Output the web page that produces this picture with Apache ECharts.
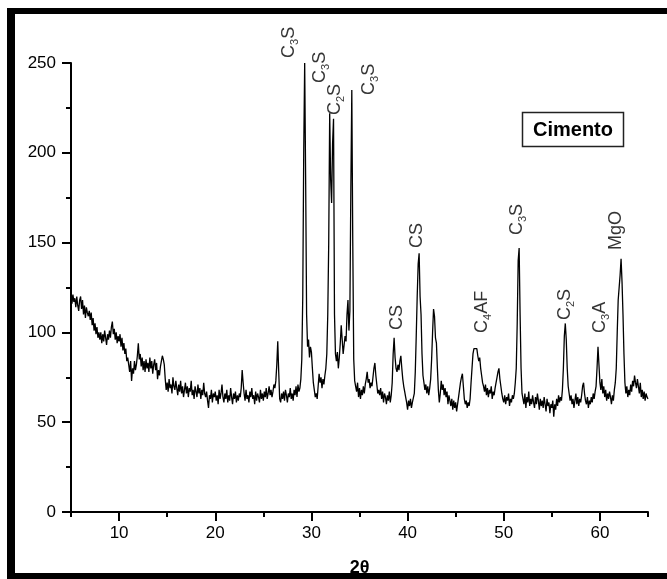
<!DOCTYPE html>
<html>
<head>
<meta charset="utf-8">
<script src="https://cdn.jsdelivr.net/npm/echarts@6/dist/echarts.min.js"></script>
<style>
  html, body { margin: 0; padding: 0; background: #fff; }
  #chart { width: 667px; height: 579px; }
</style>
</head>
<body>
<div id="chart"></div>
<script>
// difratograma - varredura de 5 a 65 graus, passo 0.1
const scanStart = 5.0;
const scanStep = 0.1;
const intensity = [
  124, 116, 121, 117, 119, 114, 120, 115, 112, 118,
  120, 113, 118, 110, 115, 108, 114, 111, 109, 112,
  107, 111, 104, 108, 101, 105, 99, 103, 97, 100,
  96, 100, 94, 99, 95, 101, 97, 93, 99, 96,
  101, 97, 103, 106, 99, 102, 96, 100, 94, 98,
  95, 99, 92, 97, 90, 94, 88, 91, 84, 86,
  82, 78, 84, 73, 80, 77, 84, 79, 82, 87,
  94, 85, 88, 81, 86, 79, 84, 78, 85, 80,
  83, 78, 86, 80, 84, 77, 82, 85, 79, 83,
  74, 79, 76, 81, 84, 87, 85, 82, 74, 68,
  72, 67, 74, 69, 71, 66, 75, 70, 68, 73,
  69, 65, 71, 67, 73, 66, 70, 64, 68, 72,
  66, 70, 64, 69, 67, 73, 65, 68, 63, 70,
  67, 64, 71, 66, 69, 63, 68, 65, 72, 66,
  64, 67, 62, 58, 65, 63, 68, 61, 66, 64,
  67, 62, 65, 60, 68, 63, 66, 71, 64, 61,
  66, 63, 68, 61, 65, 62, 69, 64, 60, 66,
  63, 67, 61, 65, 62, 66, 64, 69, 79, 72,
  66, 62, 68, 63, 65, 61, 67, 64, 69, 63,
  65, 60, 67, 62, 66, 64, 61, 68, 63, 66,
  62, 67, 64, 69, 63, 66, 70, 65, 68, 64,
  67, 71, 69, 73, 82, 95, 78, 63, 61, 66,
  63, 67, 62, 68, 65, 61, 66, 64, 69, 63,
  66, 62, 68, 65, 70, 64, 71, 67, 69, 74,
  85, 120, 200, 250, 185, 110, 92, 96, 86, 92,
  89, 80, 72, 68, 64, 66, 63, 70, 77, 72,
  75, 69, 74, 71, 76, 80, 88, 110, 150, 222,
  185, 172, 205, 219, 110, 88, 84, 89, 80, 86,
  94, 104, 96, 88, 93, 98, 95, 110, 118, 101,
  112, 180, 235, 150, 85, 73, 70, 67, 72, 64,
  69, 63, 68, 65, 70, 66, 71, 74, 78, 72,
  74, 69, 72, 70, 75, 80, 83, 76, 71, 66,
  68, 65, 69, 63, 67, 61, 66, 64, 60, 65,
  62, 67, 61, 65, 72, 88, 97, 86, 80, 78,
  82, 79, 84, 87, 80, 74, 70, 67, 64, 61,
  57, 62, 59, 63, 58, 61, 60, 66, 78, 98,
  120, 138, 144, 120, 110, 88, 76, 72, 68, 71,
  66, 70, 65, 69, 74, 85, 100, 113, 109, 97,
  94, 80, 68, 61, 66, 73, 68, 71, 65, 69,
  64, 67, 60, 65, 62, 59, 63, 57, 62, 58,
  61, 56, 60, 64, 68, 72, 75, 77, 70, 63,
  60, 62, 58, 61, 59, 63, 72, 80, 88, 91,
  92, 90, 91, 87, 84, 86, 80, 76, 72, 70,
  67, 71, 65, 69, 64, 68, 66, 70, 63, 67,
  65, 69, 72, 75, 78, 80, 74, 70, 66, 63,
  61, 65, 60, 64, 62, 66, 59, 63, 61, 65,
  63, 66, 72, 80, 105, 140, 147, 110, 80, 66,
  63, 60, 66, 58, 64, 61, 67, 59, 63, 60,
  65, 61, 58, 64, 60, 66, 62, 57, 63, 59,
  62, 58, 64, 60, 56, 63, 59, 61, 55, 60,
  58, 62, 53, 60, 57, 63, 59, 65, 61, 64,
  62, 68, 80, 98, 105, 96, 80, 70, 66, 62,
  65, 60, 63, 58, 62, 66, 60, 64, 59, 63,
  61, 65, 70, 72, 66, 62, 60, 64, 58, 62,
  60, 64, 61, 66, 63, 67, 70, 80, 92, 82,
  72, 68, 74, 66, 70, 64, 68, 62, 66, 63,
  67, 64, 60, 65, 62, 68, 72, 80, 100, 118,
  125, 132, 141, 128, 110, 88, 72, 66, 70, 64,
  68, 65, 71, 67, 73, 70, 76, 72, 69, 74,
  70, 66, 72, 64, 68, 63, 67, 62, 66, 64,
  63
];

// eixos
const xLabelValues = [10, 20, 30, 40, 50, 60];
const xMinorValues = [5, 15, 25, 35, 45, 55, 65];

// identificacao das fases (posicao do inicio do texto)
const phaseText = [
  '{m|C}{s|3}{m|S}', '{m|C}{s|3}{m|S}', '{m|C}{s|2}{m|S}', '{m|C}{s|3}{m|S}',
  '{m|CS}', '{m|CS}', '{m|C}{s|4}{m|AF}', '{m|C}{s|3}{m|S}',
  '{m|C}{s|2}{m|S}', '{m|C}{s|3}{m|A}', '{m|MgO}'
];
const phaseTheta = [27.67, 30.89, 32.45, 35.99, 38.9, 40.98, 47.74, 51.38, 56.37, 60.01, 61.67];
const phaseValue = [252.8, 238.9, 221.0, 232.2, 101.3, 147.0, 99.7, 154.2, 106.9, 99.7, 145.9];

const narrowFont = "'Liberation Sans Narrow', 'Arial Narrow', 'Liberation Sans', Arial, sans-serif";

const chart = echarts.init(document.getElementById('chart'));

const option = {
  animation: false,
  backgroundColor: '#fff',
  grid: {left: 71, right: 19, top: 63, bottom: 67, outerBoundsMode: 'none'},
  xAxis: [
    {
      type: 'value',
      min: 5,
      max: 65,
      axisLine: {show: true, onZero: false, lineStyle: {color: '#000', width: 2}},
      axisTick: {show: true, customValues: xLabelValues, length: 9, lineStyle: {color: '#000', width: 2}},
      axisLabel: {customValues: xLabelValues, margin: 13, color: '#000', fontSize: 17, fontFamily: narrowFont},
      splitLine: {show: false},
      name: '2θ',
      nameLocation: 'middle',
      nameGap: 47,
      nameTextStyle: {color: '#000', fontSize: 18, fontWeight: 'bold', fontFamily: "'Liberation Sans', Arial, sans-serif"}
    },
    {
      type: 'value',
      min: 5,
      max: 65,
      position: 'bottom',
      axisLine: {show: false},
      axisTick: {show: true, customValues: xMinorValues, length: 5, lineStyle: {color: '#000', width: 2}},
      axisLabel: {show: false},
      splitLine: {show: false}
    }
  ],
  yAxis: {
    type: 'value',
    min: 0,
    max: 250,
    interval: 50,
    axisLine: {show: true, lineStyle: {color: '#000', width: 2}},
    axisTick: {show: true, length: 9, lineStyle: {color: '#000', width: 2}},
    minorTick: {show: true, splitNumber: 2, length: 5, lineStyle: {color: '#000', width: 2}},
    axisLabel: {margin: 15, color: '#000', fontSize: 17, fontFamily: narrowFont},
    splitLine: {show: false}
  },
  series: [
    {
      name: 'Cimento',
      type: 'line',
      showSymbol: false,
      symbol: 'none',
      lineStyle: {color: '#000', width: 1.3},
      data: intensity.map((v, i) => [+(scanStart + i * scanStep).toFixed(2), v])
    },
    {
      type: 'scatter',
      symbolSize: 0,
      clip: false,
      silent: true,
      data: phaseTheta.map((t, i) => [t, phaseValue[i]]),
      label: {
        show: true,
        position: 'inside',
        align: 'left',
        verticalAlign: 'middle',
        rotate: 90,
        formatter: p => phaseText[p.dataIndex],
        rich: {
          m: {fontSize: 18, lineHeight: 18, color: '#000', fontFamily: "'Liberation Sans', Arial, sans-serif"},
          s: {fontSize: 11, lineHeight: 11, padding: [11, 0, 0, 0], color: '#000', fontFamily: "'Liberation Sans', Arial, sans-serif"}
        }
      }
    }
  ],
  graphic: [
    // moldura
    {type: 'rect', shape: {x: 7, y: 8, width: 8, height: 571}, style: {fill: '#000'}, silent: true},
    {type: 'rect', shape: {x: 7, y: 8, width: 660, height: 6}, style: {fill: '#000'}, silent: true},
    {type: 'rect', shape: {x: 7, y: 573, width: 660, height: 6}, style: {fill: '#000'}, silent: true},
    // legenda
    {
      type: 'rect',
      shape: {x: 522.5, y: 112.5, width: 101, height: 34},
      style: {fill: '#fff', stroke: '#222', lineWidth: 1.5},
      silent: true
    },
    {
      type: 'text',
      x: 573,
      y: 130,
      style: {text: 'Cimento', fill: '#000', font: "bold 20px 'Liberation Sans', Arial, sans-serif", align: 'center', verticalAlign: 'middle'},
      silent: true
    }
  ]
};

chart.setOption(option);
</script>
</body>
</html>
